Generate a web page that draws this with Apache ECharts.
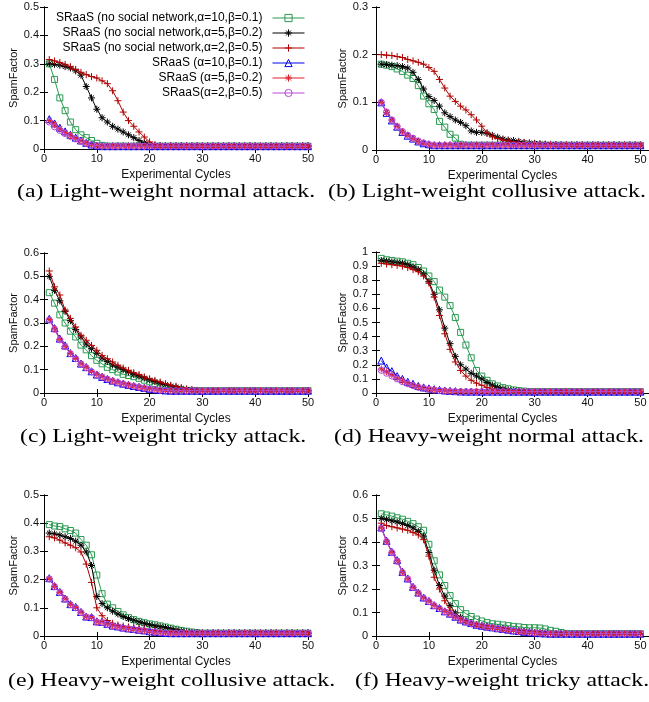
<!DOCTYPE html>
<html><head><meta charset="utf-8">
<script src="https://cdn.jsdelivr.net/npm/echarts/dist/echarts.min.js"></script>
<style>html,body{margin:0;padding:0;background:#fff}#c{width:649px;height:702px}</style>
</head><body><div id="c"></div><script>
// x values: experimental cycles
const cycles = [1,2,3,4,5,6,7,8,9,10,11,12,13,14,15,16,17,18,19,20,21,22,23,24,25,26,27,28,29,30,31,32,33,34,35,36,37,38,39,40,41,42,43,44,45,46,47,48,49,50];

const seriesNames = [
  'SRaaS (no social network,\u03b1=10,\u03b2=0.1)',
  'SRaaS (no social network,\u03b1=5,\u03b2=0.2)',
  'SRaaS (no social network,\u03b1=2,\u03b2=0.5)',
  'SRaaS (\u03b1=10,\u03b2=0.1)',
  'SRaaS (\u03b1=5,\u03b2=0.2)',
  'SRaaS(\u03b1=2,\u03b2=0.5)'
];

const captions = [
  '(a) Light-weight normal attack.',
  '(b) Light-weight collusive attack.',
  '(c) Light-weight tricky attack.',
  '(d) Heavy-weight normal attack.',
  '(e) Heavy-weight collusive attack.',
  '(f) Heavy-weight tricky attack.'
];

const yMaxes = [0.5, 0.3, 0.6, 1, 0.5, 0.6];
const xTickInterval = 10;
const yInterval = 0.1;

// (a) Light-weight normal attack
const a_ns10 = [0.30,0.245,0.18,0.135,0.095,0.068,0.05,0.04,0.03,0.02,0.013,0.01,0.01,0.01,0.01,0.01,0.01,0.01,0.01,0.01,0.01,0.01,0.01,0.01,0.01,0.01,0.01,0.01,0.01,0.01,0.01,0.01,0.01,0.01,0.01,0.01,0.01,0.01,0.01,0.01,0.01,0.01,0.01,0.01,0.01,0.01,0.01,0.01,0.01,0.01];
const a_ns5 = [0.30,0.298,0.295,0.29,0.285,0.275,0.26,0.22,0.18,0.14,0.11,0.095,0.08,0.07,0.06,0.05,0.04,0.03,0.022,0.016,0.012,0.01,0.01,0.01,0.01,0.01,0.01,0.01,0.01,0.01,0.01,0.01,0.01,0.01,0.01,0.01,0.01,0.01,0.01,0.01,0.01,0.01,0.01,0.01,0.01,0.01,0.01,0.01,0.01,0.01];
const a_ns2 = [0.315,0.31,0.305,0.298,0.29,0.28,0.27,0.262,0.255,0.25,0.24,0.23,0.205,0.17,0.13,0.1,0.08,0.06,0.042,0.025,0.015,0.012,0.01,0.01,0.01,0.01,0.01,0.01,0.01,0.01,0.01,0.01,0.01,0.01,0.01,0.01,0.01,0.01,0.01,0.01,0.01,0.01,0.01,0.01,0.01,0.01,0.01,0.01,0.01,0.01];
const a_s10 = [0.105,0.09,0.075,0.062,0.05,0.04,0.03,0.022,0.016,0.012,0.01,0.01,0.01,0.01,0.01,0.01,0.01,0.01,0.01,0.01,0.01,0.01,0.01,0.01,0.01,0.01,0.01,0.01,0.01,0.01,0.01,0.01,0.01,0.01,0.01,0.01,0.01,0.01,0.01,0.01,0.01,0.01,0.01,0.01,0.01,0.01,0.01,0.01,0.01,0.01];
const a_s5 = [0.1,0.085,0.07,0.058,0.047,0.037,0.028,0.02,0.014,0.011,0.01,0.01,0.01,0.01,0.01,0.01,0.01,0.01,0.01,0.01,0.01,0.01,0.01,0.01,0.01,0.01,0.01,0.01,0.01,0.01,0.01,0.01,0.01,0.01,0.01,0.01,0.01,0.01,0.01,0.01,0.01,0.01,0.01,0.01,0.01,0.01,0.01,0.01,0.01,0.01];
const a_s2 = [0.095,0.078,0.065,0.054,0.044,0.035,0.027,0.02,0.015,0.012,0.01,0.01,0.01,0.01,0.01,0.01,0.01,0.01,0.01,0.01,0.01,0.01,0.01,0.01,0.01,0.01,0.01,0.01,0.01,0.01,0.01,0.01,0.01,0.01,0.01,0.01,0.01,0.01,0.01,0.01,0.01,0.01,0.01,0.01,0.01,0.01,0.01,0.01,0.01,0.01];

// (b) Light-weight collusive attack
const b_ns10 = [0.18,0.178,0.175,0.17,0.165,0.157,0.15,0.135,0.113,0.097,0.085,0.06,0.048,0.033,0.025,0.012,0.01,0.01,0.01,0.01,0.01,0.01,0.01,0.01,0.01,0.01,0.01,0.01,0.01,0.01,0.01,0.01,0.01,0.01,0.01,0.01,0.01,0.01,0.01,0.01,0.01,0.01,0.01,0.01,0.01,0.01,0.01,0.01,0.01,0.01];
const b_ns5 = [0.18,0.179,0.178,0.177,0.175,0.172,0.163,0.148,0.128,0.112,0.104,0.092,0.078,0.07,0.063,0.058,0.051,0.04,0.037,0.037,0.035,0.031,0.027,0.023,0.021,0.02,0.018,0.016,0.015,0.014,0.013,0.012,0.012,0.011,0.01,0.01,0.01,0.01,0.01,0.01,0.01,0.01,0.01,0.01,0.01,0.01,0.01,0.01,0.01,0.01];
const b_ns2 = [0.2,0.199,0.198,0.196,0.194,0.19,0.187,0.184,0.18,0.173,0.165,0.148,0.13,0.113,0.102,0.092,0.084,0.074,0.063,0.05,0.036,0.028,0.024,0.021,0.019,0.017,0.016,0.015,0.014,0.013,0.012,0.012,0.011,0.01,0.01,0.01,0.01,0.01,0.01,0.01,0.01,0.01,0.01,0.01,0.01,0.01,0.01,0.01,0.01,0.01];
const b_s10 = [0.1,0.078,0.062,0.049,0.038,0.03,0.024,0.018,0.014,0.012,0.01,0.01,0.01,0.01,0.01,0.01,0.01,0.01,0.01,0.01,0.01,0.01,0.01,0.01,0.01,0.01,0.01,0.01,0.01,0.01,0.01,0.01,0.01,0.01,0.01,0.01,0.01,0.01,0.01,0.01,0.01,0.01,0.01,0.01,0.01,0.01,0.01,0.01,0.01,0.01];
const b_s5 = [0.1,0.079,0.063,0.05,0.038,0.031,0.024,0.018,0.014,0.011,0.01,0.01,0.01,0.01,0.01,0.01,0.01,0.01,0.01,0.01,0.01,0.01,0.01,0.01,0.01,0.01,0.01,0.01,0.01,0.01,0.01,0.01,0.01,0.01,0.01,0.01,0.01,0.01,0.01,0.01,0.01,0.01,0.01,0.01,0.01,0.01,0.01,0.01,0.01,0.01];
const b_s2 = [0.1,0.08,0.063,0.049,0.039,0.031,0.025,0.019,0.015,0.012,0.01,0.01,0.01,0.01,0.01,0.01,0.01,0.01,0.01,0.01,0.01,0.01,0.01,0.01,0.01,0.01,0.01,0.01,0.01,0.01,0.01,0.01,0.01,0.01,0.01,0.01,0.01,0.01,0.01,0.01,0.01,0.01,0.01,0.01,0.01,0.01,0.01,0.01,0.01,0.01];

// (c) Light-weight tricky attack
const c_ns10 = [0.43,0.385,0.335,0.3,0.265,0.24,0.205,0.185,0.16,0.14,0.125,0.11,0.1,0.09,0.08,0.075,0.07,0.063,0.055,0.048,0.04,0.032,0.025,0.02,0.016,0.013,0.011,0.01,0.01,0.01,0.01,0.01,0.01,0.01,0.01,0.01,0.01,0.01,0.01,0.01,0.01,0.01,0.01,0.01,0.01,0.01,0.01,0.01,0.01,0.01];
const c_ns5 = [0.5,0.44,0.395,0.35,0.31,0.272,0.24,0.21,0.19,0.17,0.15,0.135,0.12,0.11,0.1,0.09,0.08,0.072,0.064,0.056,0.049,0.042,0.036,0.03,0.025,0.02,0.016,0.013,0.011,0.01,0.01,0.01,0.01,0.01,0.01,0.01,0.01,0.01,0.01,0.01,0.01,0.01,0.01,0.01,0.01,0.01,0.01,0.01,0.01,0.01];
const c_ns2 = [0.523,0.455,0.42,0.355,0.32,0.283,0.247,0.226,0.204,0.183,0.161,0.147,0.133,0.119,0.107,0.097,0.087,0.079,0.069,0.061,0.054,0.047,0.04,0.033,0.029,0.023,0.017,0.014,0.011,0.01,0.01,0.01,0.01,0.01,0.01,0.01,0.01,0.01,0.01,0.01,0.01,0.01,0.01,0.01,0.01,0.01,0.01,0.01,0.01,0.01];
const c_s10 = [0.318,0.278,0.233,0.204,0.171,0.15,0.126,0.111,0.093,0.079,0.069,0.06,0.053,0.046,0.04,0.035,0.03,0.026,0.022,0.018,0.015,0.013,0.011,0.01,0.01,0.01,0.01,0.01,0.01,0.01,0.01,0.01,0.01,0.01,0.01,0.01,0.01,0.01,0.01,0.01,0.01,0.01,0.01,0.01,0.01,0.01,0.01,0.01,0.01,0.01];
const c_s5 = [0.315,0.275,0.23,0.2,0.17,0.148,0.125,0.11,0.092,0.08,0.07,0.06,0.052,0.045,0.04,0.034,0.029,0.025,0.021,0.018,0.015,0.012,0.011,0.01,0.01,0.01,0.01,0.01,0.01,0.01,0.01,0.01,0.01,0.01,0.01,0.01,0.01,0.01,0.01,0.01,0.01,0.01,0.01,0.01,0.01,0.01,0.01,0.01,0.01,0.01];
const c_s2 = [0.312,0.273,0.228,0.198,0.168,0.147,0.124,0.108,0.091,0.078,0.068,0.059,0.051,0.045,0.039,0.034,0.029,0.025,0.021,0.017,0.014,0.012,0.011,0.01,0.01,0.01,0.01,0.01,0.01,0.01,0.01,0.01,0.01,0.01,0.01,0.01,0.01,0.01,0.01,0.01,0.01,0.01,0.01,0.01,0.01,0.01,0.01,0.01,0.01,0.01];

// (d) Heavy-weight normal attack
const d_ns10 = [0.955,0.945,0.94,0.935,0.93,0.92,0.91,0.89,0.865,0.83,0.79,0.73,0.68,0.62,0.535,0.43,0.34,0.25,0.16,0.12,0.09,0.065,0.05,0.038,0.03,0.022,0.017,0.013,0.011,0.01,0.01,0.01,0.01,0.01,0.01,0.01,0.01,0.01,0.01,0.01,0.01,0.01,0.01,0.01,0.01,0.01,0.01,0.01,0.01,0.01];
const d_ns5 = [0.94,0.935,0.93,0.925,0.92,0.91,0.895,0.875,0.845,0.79,0.7,0.59,0.46,0.35,0.26,0.2,0.17,0.14,0.12,0.1,0.075,0.055,0.04,0.03,0.022,0.016,0.013,0.011,0.01,0.01,0.01,0.01,0.01,0.01,0.01,0.01,0.01,0.01,0.01,0.01,0.01,0.01,0.01,0.01,0.01,0.01,0.01,0.01,0.01,0.01];
const d_ns2 = [0.92,0.915,0.91,0.905,0.9,0.89,0.875,0.86,0.83,0.78,0.68,0.55,0.42,0.31,0.22,0.16,0.12,0.09,0.07,0.055,0.04,0.03,0.022,0.017,0.013,0.011,0.01,0.01,0.01,0.01,0.01,0.01,0.01,0.01,0.01,0.01,0.01,0.01,0.01,0.01,0.01,0.01,0.01,0.01,0.01,0.01,0.01,0.01,0.01,0.01];
const d_s10 = [0.23,0.18,0.155,0.12,0.1,0.08,0.065,0.05,0.04,0.033,0.027,0.022,0.018,0.015,0.013,0.011,0.01,0.01,0.01,0.01,0.01,0.01,0.01,0.01,0.01,0.01,0.01,0.01,0.01,0.01,0.01,0.01,0.01,0.01,0.01,0.01,0.01,0.01,0.01,0.01,0.01,0.01,0.01,0.01,0.01,0.01,0.01,0.01,0.01,0.01];
const d_s5 = [0.17,0.15,0.13,0.105,0.085,0.07,0.055,0.043,0.035,0.028,0.022,0.018,0.015,0.013,0.011,0.01,0.01,0.01,0.01,0.01,0.01,0.01,0.01,0.01,0.01,0.01,0.01,0.01,0.01,0.01,0.01,0.01,0.01,0.01,0.01,0.01,0.01,0.01,0.01,0.01,0.01,0.01,0.01,0.01,0.01,0.01,0.01,0.01,0.01,0.01];
const d_s2 = [0.16,0.14,0.12,0.1,0.08,0.065,0.052,0.04,0.032,0.026,0.021,0.017,0.014,0.012,0.01,0.01,0.01,0.01,0.01,0.01,0.01,0.01,0.01,0.01,0.01,0.01,0.01,0.01,0.01,0.01,0.01,0.01,0.01,0.01,0.01,0.01,0.01,0.01,0.01,0.01,0.01,0.01,0.01,0.01,0.01,0.01,0.01,0.01,0.01,0.01];

// (e) Heavy-weight collusive attack
const e_ns10 = [0.395,0.39,0.388,0.38,0.374,0.365,0.342,0.322,0.288,0.216,0.15,0.113,0.1,0.087,0.075,0.065,0.058,0.052,0.047,0.043,0.04,0.036,0.032,0.028,0.024,0.02,0.017,0.014,0.012,0.01,0.01,0.01,0.01,0.01,0.01,0.01,0.01,0.01,0.01,0.01,0.01,0.01,0.01,0.01,0.01,0.01,0.01,0.01,0.01,0.01];
const e_ns5 = [0.365,0.362,0.358,0.352,0.346,0.336,0.322,0.298,0.25,0.14,0.115,0.1,0.088,0.078,0.069,0.062,0.056,0.05,0.045,0.04,0.036,0.033,0.03,0.026,0.022,0.018,0.015,0.013,0.011,0.01,0.01,0.01,0.01,0.01,0.01,0.01,0.01,0.01,0.01,0.01,0.01,0.01,0.01,0.01,0.01,0.01,0.01,0.01,0.01,0.01];
const e_ns2 = [0.352,0.348,0.34,0.33,0.322,0.313,0.298,0.255,0.19,0.1,0.072,0.055,0.045,0.039,0.035,0.032,0.03,0.028,0.025,0.023,0.02,0.018,0.016,0.014,0.013,0.012,0.011,0.01,0.01,0.01,0.01,0.01,0.01,0.01,0.01,0.01,0.01,0.01,0.01,0.01,0.01,0.01,0.01,0.01,0.01,0.01,0.01,0.01,0.01,0.01];
const e_s10 = [0.205,0.177,0.156,0.133,0.113,0.103,0.085,0.069,0.067,0.052,0.05,0.043,0.037,0.034,0.03,0.027,0.025,0.022,0.02,0.017,0.015,0.013,0.011,0.01,0.01,0.01,0.01,0.01,0.01,0.01,0.01,0.01,0.01,0.01,0.01,0.01,0.01,0.01,0.01,0.01,0.01,0.01,0.01,0.01,0.01,0.01,0.01,0.01,0.01,0.01];
const e_s5 = [0.203,0.176,0.155,0.132,0.112,0.101,0.084,0.068,0.066,0.05,0.049,0.042,0.036,0.033,0.029,0.026,0.024,0.021,0.019,0.016,0.014,0.012,0.011,0.01,0.01,0.01,0.01,0.01,0.01,0.01,0.01,0.01,0.01,0.01,0.01,0.01,0.01,0.01,0.01,0.01,0.01,0.01,0.01,0.01,0.01,0.01,0.01,0.01,0.01,0.01];
const e_s2 = [0.202,0.175,0.154,0.131,0.111,0.1,0.083,0.067,0.065,0.049,0.048,0.041,0.035,0.032,0.028,0.025,0.023,0.02,0.018,0.016,0.014,0.012,0.011,0.01,0.01,0.01,0.01,0.01,0.01,0.01,0.01,0.01,0.01,0.01,0.01,0.01,0.01,0.01,0.01,0.01,0.01,0.01,0.01,0.01,0.01,0.01,0.01,0.01,0.01,0.01];

// (f) Heavy-weight tricky attack
const f_ns10 = [0.52,0.515,0.51,0.503,0.497,0.488,0.478,0.465,0.45,0.39,0.32,0.26,0.215,0.172,0.138,0.112,0.095,0.083,0.072,0.064,0.057,0.052,0.05,0.047,0.044,0.041,0.039,0.036,0.035,0.035,0.034,0.03,0.024,0.02,0.015,0.011,0.01,0.01,0.01,0.01,0.01,0.01,0.01,0.01,0.01,0.01,0.01,0.01,0.01,0.01];
const f_ns5 = [0.5,0.495,0.49,0.485,0.478,0.47,0.46,0.445,0.425,0.355,0.28,0.215,0.17,0.13,0.098,0.08,0.065,0.053,0.046,0.042,0.039,0.036,0.033,0.03,0.027,0.024,0.021,0.019,0.017,0.015,0.013,0.012,0.011,0.01,0.01,0.01,0.01,0.01,0.01,0.01,0.01,0.01,0.01,0.01,0.01,0.01,0.01,0.01,0.01,0.01];
const f_ns2 = [0.48,0.47,0.465,0.46,0.455,0.45,0.44,0.43,0.41,0.34,0.25,0.2,0.15,0.11,0.085,0.07,0.06,0.052,0.046,0.042,0.039,0.035,0.032,0.028,0.024,0.021,0.019,0.017,0.015,0.013,0.012,0.011,0.01,0.01,0.01,0.01,0.01,0.01,0.01,0.01,0.01,0.01,0.01,0.01,0.01,0.01,0.01,0.01,0.01,0.01];
const f_s10 = [0.462,0.405,0.358,0.323,0.273,0.245,0.209,0.185,0.164,0.149,0.131,0.119,0.105,0.095,0.082,0.07,0.062,0.055,0.048,0.044,0.04,0.037,0.033,0.03,0.027,0.024,0.021,0.018,0.016,0.014,0.012,0.011,0.01,0.01,0.01,0.01,0.01,0.01,0.01,0.01,0.01,0.01,0.01,0.01,0.01,0.01,0.01,0.01,0.01,0.01];
const f_s5 = [0.46,0.403,0.356,0.32,0.271,0.243,0.207,0.183,0.162,0.147,0.13,0.118,0.104,0.094,0.081,0.069,0.061,0.054,0.047,0.043,0.039,0.036,0.032,0.029,0.026,0.023,0.02,0.018,0.016,0.014,0.012,0.011,0.01,0.01,0.01,0.01,0.01,0.01,0.01,0.01,0.01,0.01,0.01,0.01,0.01,0.01,0.01,0.01,0.01,0.01];
const f_s2 = [0.458,0.402,0.355,0.318,0.27,0.242,0.206,0.182,0.161,0.146,0.129,0.117,0.103,0.093,0.08,0.068,0.06,0.053,0.046,0.042,0.038,0.035,0.031,0.028,0.025,0.022,0.019,0.017,0.015,0.013,0.012,0.011,0.01,0.01,0.01,0.01,0.01,0.01,0.01,0.01,0.01,0.01,0.01,0.01,0.01,0.01,0.01,0.01,0.01,0.01];

const plotData = [
  [a_ns10, a_ns5, a_ns2, a_s10, a_s5, a_s2],
  [b_ns10, b_ns5, b_ns2, b_s10, b_s5, b_s2],
  [c_ns10, c_ns5, c_ns2, c_s10, c_s5, c_s2],
  [d_ns10, d_ns5, d_ns2, d_s10, d_s5, d_s2],
  [e_ns10, e_ns5, e_ns2, e_s10, e_s5, e_s2],
  [f_ns10, f_ns5, f_ns2, f_s10, f_s5, f_s2]
];

// ---- styles / layout ----
const colors = ['#2a9a52', '#000000', '#b00000', '#0000ee', '#e0202a', '#b848d8'];
const PLUS = 'path://M5,0V10M0,5H10';
const STAR = 'path://M5,0V10M0,5H10M1.6,1.6L8.4,8.4M8.4,1.6L1.6,8.4';
const symbols = ['rect', STAR, PLUS, 'triangle', STAR, 'circle'];
const symbolSizes = [6, 7, 7, 7, 7, 6];

// right-column frames extend past the picture edge (x = 50 sits at ~640px)
const layout = [
  {left: 44, top: 7, width: 264, height: 142, xMax: 50},
  {left: 376, top: 7, width: 275, height: 143, xMax: 52},
  {left: 44, top: 253, width: 264, height: 140, xMax: 50},
  {left: 376, top: 252, width: 275, height: 141, xMax: 52},
  {left: 44, top: 495, width: 264, height: 141, xMax: 50},
  {left: 376, top: 495, width: 275, height: 141, xMax: 52}
];
const capPos = [[17, 192], [328, 192], [20, 437], [334, 437], [8, 681], [355, 681]];

const SANS = '"Liberation Sans", Arial, sans-serif';
const axisLineStyle = {show: true, lineStyle: {color: '#000', width: 1}};
const tickStyle = {show: true, inside: true, length: 4, lineStyle: {color: '#000', width: 1}};
const xLabelFmt = v => (v % xTickInterval === 0 ? String(v) : '');

const grids = [], xAxes = [], yAxes = [], series = [];
layout.forEach((g, i) => {
  grids.push({containLabel: false, outerBoundsMode: 'none', show: false,
              left: g.left, top: g.top, width: g.width, height: g.height});
  const isRight = i % 2 === 1;
  xAxes.push({
    type: 'value', gridIndex: i, position: 'bottom',
    min: 0, max: g.xMax, interval: xTickInterval,
    axisLine: axisLineStyle, axisTick: tickStyle, splitLine: {show: false},
    axisLabel: {color: '#111', fontFamily: SANS, fontSize: 11, margin: 4,
                showMinLabel: true, showMaxLabel: !isRight, formatter: xLabelFmt},
    name: 'Experimental Cycles', nameLocation: 'middle', nameGap: 20,
    nameTextStyle: {color: '#111', fontFamily: SANS, fontSize: 12,
                    padding: isRight ? [0, 22, 0, 0] : 0}
  });
  xAxes.push({
    type: 'value', gridIndex: i, position: 'top',
    min: 0, max: g.xMax, interval: xTickInterval,
    axisLine: axisLineStyle, axisTick: tickStyle, splitLine: {show: false},
    axisLabel: {show: false}
  });
  yAxes.push({
    type: 'value', gridIndex: i, position: 'left',
    min: 0, max: yMaxes[i], interval: yInterval,
    axisLine: axisLineStyle, axisTick: tickStyle, splitLine: {show: false},
    axisLabel: {color: '#111', fontFamily: SANS, fontSize: 11, margin: isRight ? 8 : 5, showMinLabel: true, showMaxLabel: true},
    name: 'SpamFactor', nameLocation: 'middle', nameGap: isRight ? 19 : 25,
    nameTextStyle: {color: '#111', fontFamily: SANS, fontSize: 11}
  });
  yAxes.push({
    type: 'value', gridIndex: i, position: 'right',
    min: 0, max: yMaxes[i], interval: yInterval,
    axisLine: axisLineStyle, axisTick: tickStyle, splitLine: {show: false},
    axisLabel: {show: false}
  });
  plotData[i].forEach((arr, k) => {
    series.push({
      type: 'line', name: seriesNames[k],
      xAxisIndex: 2 * i, yAxisIndex: 2 * i,
      data: cycles.map((x, j) => [x, arr[j]]),
      symbol: symbols[k], symbolSize: symbolSizes[k], showAllSymbol: true,
      lineStyle: {color: colors[k], width: 1},
      itemStyle: {color: 'rgba(0,0,0,0)', borderColor: colors[k], borderWidth: 1},
      emphasis: {disabled: true},
      z: 2 + k
    });
  });
});

const graphics = captions.map((t, i) => ({
  type: 'text', x: capPos[i][0], y: capPos[i][1], scaleX: 1.25,
  style: {text: t, fill: '#000', font: '19px "Liberation Serif", "Times New Roman", serif',
          textAlign: 'left', textVerticalAlign: 'middle'}
}));

const chart = echarts.init(document.getElementById('c'), null, {renderer: 'canvas'});
chart.setOption({
  animation: false,
  backgroundColor: '#fff',
  grid: grids, xAxis: xAxes, yAxis: yAxes, series: series,
  legend: {
    data: seriesNames, orient: 'vertical', align: 'right',
    right: 344, top: 11, itemWidth: 32, itemHeight: 9, itemGap: 1, padding: 0,
    selectedMode: false,
    itemStyle: {borderWidth: 1},
    lineStyle: {width: 1},
    textStyle: {color: '#000', fontFamily: SANS, fontSize: 12, lineHeight: 14, padding: [0, 5, 0, 0]}
  },
  graphic: graphics
});
</script></body></html>
